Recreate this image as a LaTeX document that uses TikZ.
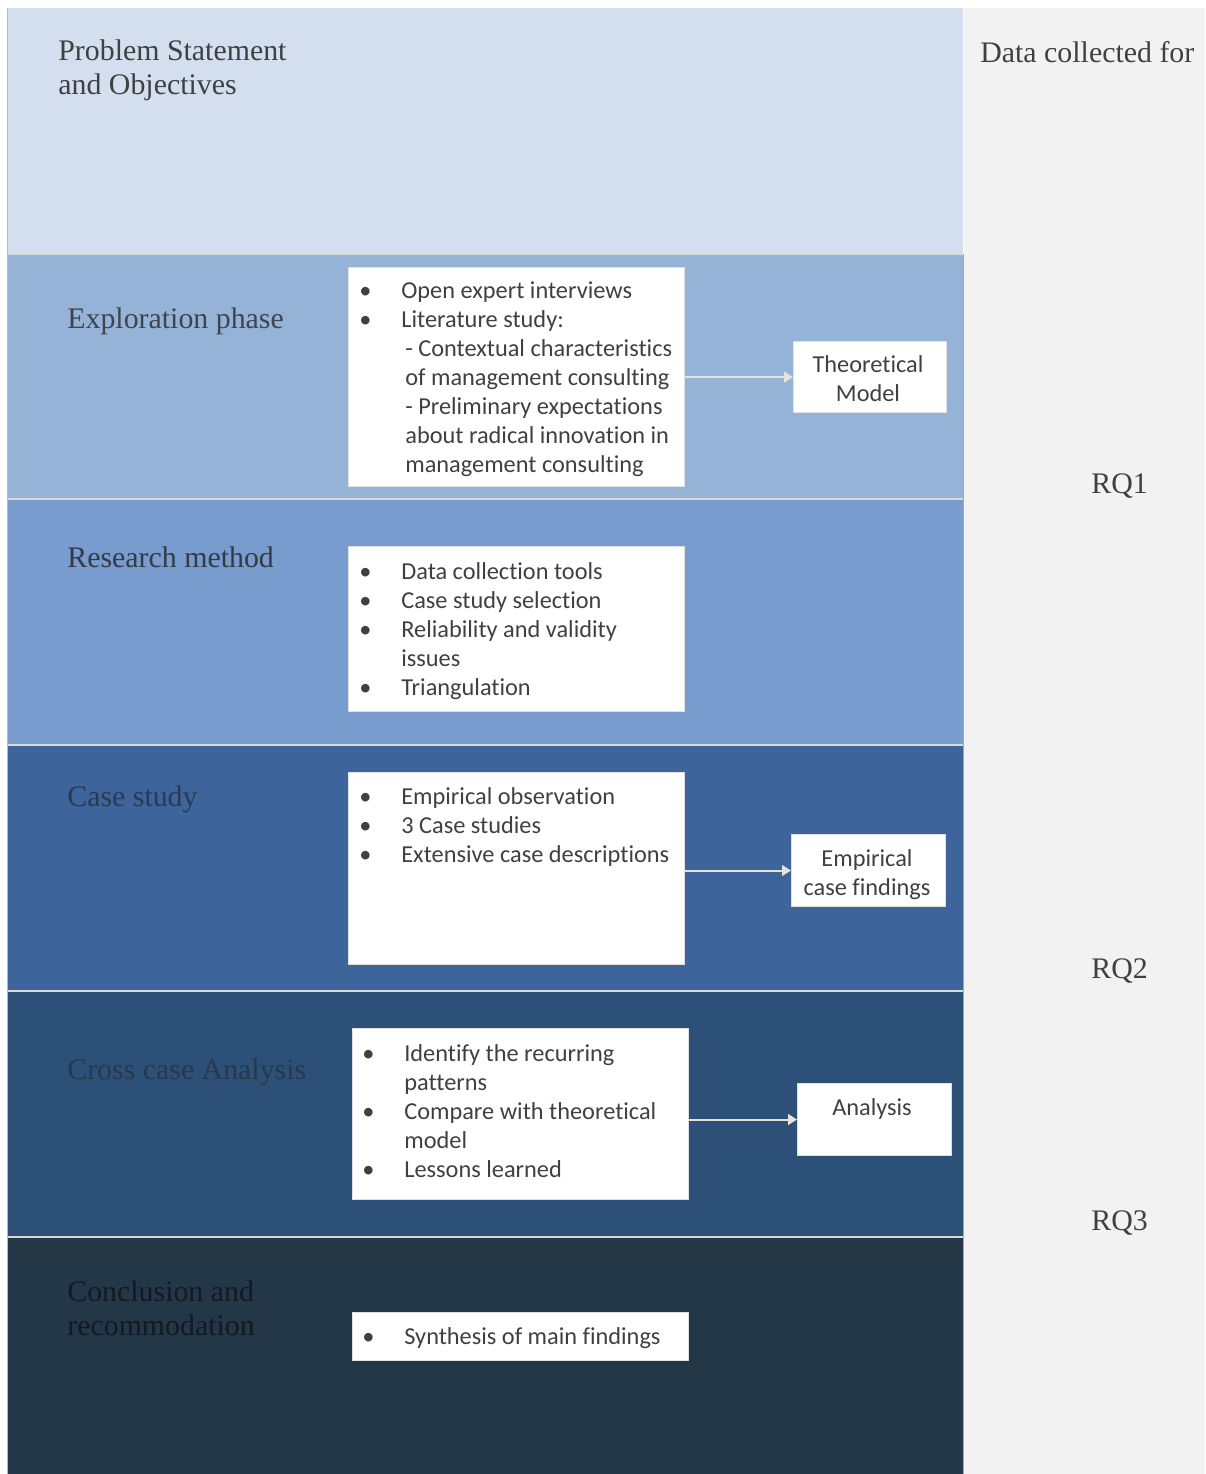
\documentclass[tikz,border=0pt]{standalone}
\usepackage{fontspec}
\setmainfont{Liberation Serif}
\newfontfamily\boxfont[Ligatures=NoCommon]{Carlito}
\usetikzlibrary{arrows.meta}

\newlength\pxu \setlength\pxu{0.02cm}
% list lines inside the white boxes
\newcommand\bitem[1]{\makebox[44\pxu][l]{\hspace{2\pxu}\textbullet}#1\par}
\newcommand\sitem[1]{\hspace{48\pxu}#1\par}
\newcommand\listbox[1]{\parbox[t]{330\pxu}{\raggedright\boxfont\fontsize{13.85}{16.55}\selectfont #1}}
\newcommand\midbox[1]{\parbox[t]{160\pxu}{\centering\boxfont\fontsize{13.85}{16.55}\selectfont #1}}
\newcommand\phasetext[1]{\parbox[t]{300\pxu}{\raggedright\fontsize{17}{19.6}\selectfont #1}}

\definecolor{bandA}{HTML}{D3DFEE}
\definecolor{bandB}{HTML}{95B3D7}
\definecolor{bandC}{HTML}{779CCD}
\definecolor{bandD}{HTML}{3D649B}
\definecolor{bandE}{HTML}{2D5079}
\definecolor{bandF}{HTML}{243746}
\definecolor{sidecol}{HTML}{F2F2F2}
\definecolor{sepcol}{HTML}{D9D9D6}
\definecolor{arrowcol}{HTML}{E6E4DA}
\definecolor{boxtext}{HTML}{404040}
\definecolor{labB}{HTML}{3E4551}
\definecolor{labC}{HTML}{343B47}
\definecolor{labD}{HTML}{2A3A52}
\definecolor{labE}{HTML}{27374C}
\definecolor{labF}{HTML}{0F1A26}

\tikzset{
  whitebox/.style={draw=black!12, line width=0.6pt, fill=white, inner sep=0pt, anchor=north west},
  listtext/.style={inner sep=0pt, anchor=base west, text=boxtext},
  midtext/.style={inner sep=0pt, anchor=base, text=boxtext},
  phase/.style={inner sep=0pt, anchor=base west},
  rqtext/.style={inner sep=0pt, anchor=base west, text=boxtext, font=\fontsize{17}{19.6}\selectfont},
  flow/.style={draw=arrowcol, line width=1.1pt, -{Triangle[width=6pt,length=5pt]}},
}

\begin{document}
\begin{tikzpicture}[x=0.02cm, y=-0.02cm]
\useasboundingbox (0,0) rectangle (1205,1474);
\fill[white] (0,0) rectangle (1205,1474);

% right column
\fill[sidecol] (964,8) rectangle (1205,1474);

% horizontal bands
\fill[bandA] (8,8)    rectangle (963,254);
\fill[bandB] (8,254)  rectangle (963,499);
\fill[bandC] (8,499)  rectangle (963,745);
\fill[bandD] (8,745)  rectangle (963,991);
\fill[bandE] (8,991)  rectangle (963,1237);
\fill[bandF] (8,1237) rectangle (963,1474);
\foreach \yy in {254,499,745,991,1237}
  \draw[sepcol, line width=1.2pt] (8,\yy) -- (963,\yy);
\draw[black!28, line width=0.8pt] (7.5,8) -- (7.5,1474);
\draw[black!35, line width=0.5pt] (963.5,254) -- (963.5,1474);

% phase labels
\node[phase, text=boxtext] (pA) at (58,60) {\phasetext{Problem Statement\\and Objectives}};
\node[phase, text=labB] (pB) at (67,328) {\phasetext{Exploration phase}};
\node[phase, text=labC] (pC) at (67,567) {\phasetext{Research method}};
\node[phase, text=labD] (pD) at (67,806) {\phasetext{Case study}};
\node[phase, text=labE] (pE) at (67,1079) {\phasetext{Cross case Analysis}};
\node[phase, text=labF] (pF) at (67,1301) {\phasetext{Conclusion and\\recommodation}};

% right column labels
\node[rqtext] (dc)  at (980,62)   {Data collected for};
\node[rqtext] (rq1) at (1091,493) {RQ1};
\node[rqtext] (rq2) at (1091,978) {RQ2};
\node[rqtext] (rq3) at (1091,1230){RQ3};

% exploration phase
\node[whitebox, minimum width=336\pxu, minimum height=219\pxu] (bA) at (348,267) {};
\node[listtext] (tA) at (357,298) {\listbox{%
  \bitem{Open expert interviews}
  \bitem{Literature study:}
  \sitem{- Contextual characteristics}
  \sitem{of management consulting}
  \sitem{- Preliminary expectations}
  \sitem{about radical innovation in}
  \sitem{management consulting}}};
\node[whitebox, minimum width=153\pxu, minimum height=71\pxu] (mA) at (793,341) {};
\node[midtext] (mAt) at (868,372) {\midbox{Theoretical\\Model}};
\draw[flow] (bA.east |- mA.west) -- (mA.west);

% research method
\node[whitebox, minimum width=336\pxu, minimum height=165\pxu] (bB) at (348,546) {};
\node[listtext] (tB) at (357,579) {\listbox{%
  \bitem{Data collection tools}
  \bitem{Case study selection}
  \bitem{Reliability and validity}
  \sitem{\hspace{-4\pxu}issues}
  \bitem{Triangulation}}};

% case study
\node[whitebox, minimum width=336\pxu, minimum height=192\pxu] (bC) at (348,772) {};
\node[listtext] (tC) at (357,804) {\listbox{%
  \bitem{Empirical observation}
  \bitem{3 Case studies}
  \bitem{Extensive case descriptions}}};
\node[whitebox, minimum width=154\pxu, minimum height=72\pxu] (mC) at (791,834) {};
\node[midtext] (mCt) at (867,866) {\midbox{Empirical\\case findings}};
\draw[flow] (bC.east |- mC.west) -- (mC.west);

% cross case analysis
\node[whitebox, minimum width=336\pxu, minimum height=171\pxu] (bD) at (352,1028) {};
\node[listtext] (tD) at (360,1061) {\listbox{%
  \bitem{Identify the recurring}
  \sitem{\hspace{-4\pxu}patterns}
  \bitem{Compare with theoretical}
  \sitem{\hspace{-4\pxu}model}
  \bitem{Lessons learned}}};
\node[whitebox, minimum width=154\pxu, minimum height=72\pxu] (mD) at (797,1083) {};
\node[midtext] (mDt) at (872,1115) {\midbox{Analysis}};
\draw[flow] (bD.east |- mD.west) -- (mD.west);

% conclusion
\node[whitebox, minimum width=336\pxu, minimum height=48\pxu] (bE) at (352,1312) {};
\node[listtext] (tE) at (360,1344) {\listbox{\bitem{Synthesis of main findings}}};
\end{tikzpicture}
\end{document}
